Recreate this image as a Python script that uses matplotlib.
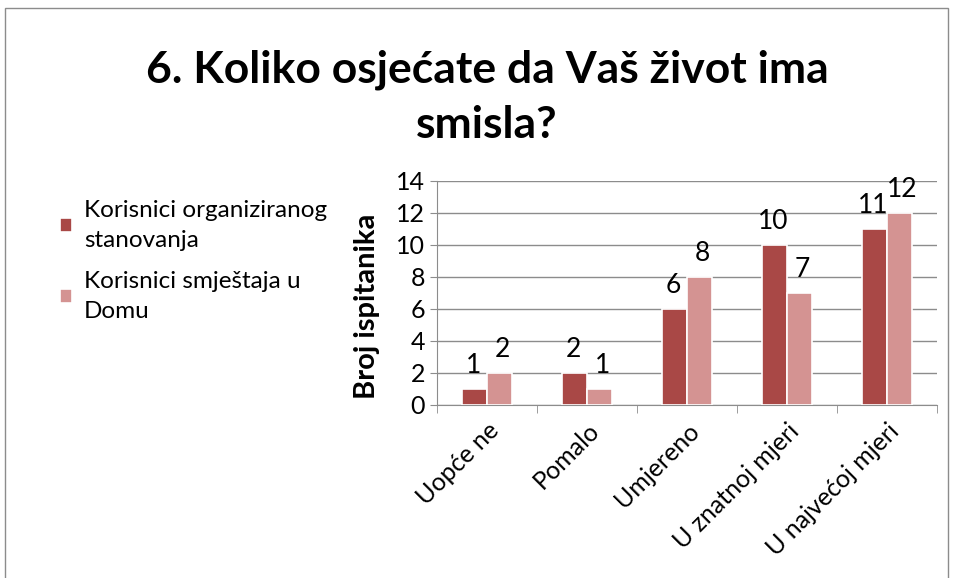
import matplotlib.pyplot as plt
import numpy as np
from matplotlib.patches import Rectangle

plt.rcParams['font.family'] = ['Lato', 'DejaVu Sans']

categories = ['Uopće ne', 'Pomalo', 'Umjereno', 'U znatnoj mjeri', 'U najvećoj mjeri']
organizirano = [1, 2, 6, 10, 11]
dom = [2, 1, 8, 7, 12]
series_names = ['Korisnici organiziranog\nstanovanja', 'Korisnici smještaja u\nDomu']
title = '6. Koliko osjećate da Vaš život ima\nsmisla?'

dark = '#A94846'
light = '#D49392'

fig = plt.figure(figsize=(9.57, 5.78), dpi=100)
fig.patches.append(Rectangle((5/957, -0.1), 943/957, 1 - 8/578 + 0.1, transform=fig.transFigure,
                             fill=False, edgecolor='#8c8c8c', linewidth=1))

ax = fig.add_axes([437/957, 1 - 405/578, 500/957, 224/578])

x = np.arange(len(categories))
w = 0.25
b1 = ax.bar(x - w/2, organizirano, w, color=dark, edgecolor='white', linewidth=1.2, zorder=3)
b2 = ax.bar(x + w/2, dom, w, color=light, edgecolor='white', linewidth=1.2, zorder=3)

for bars, vals, dx in [(b1, organizirano, -1), (b2, dom, 2)]:
    for r, v in zip(bars, vals):
        ax.annotate(str(v), (r.get_x() + r.get_width()/2, v), xytext=(dx, 8),
                    textcoords='offset points', ha='center', va='bottom', fontsize=19)

ax.set_xlim(-0.5, len(categories) - 0.5)
ax.set_ylim(0, 14)
ax.set_yticks(range(0, 15, 2))
ax.tick_params(axis='y', labelsize=18, length=5, color='#8c8c8c')
ax.set_xticks(x)
ax.set_xticklabels(categories, rotation=45, ha='right', rotation_mode='anchor', fontsize=18)
ax.tick_params(axis='x', length=0, pad=10)
ax.set_xticks(np.arange(-0.5, len(categories)), minor=True)
ax.tick_params(axis='x', which='minor', length=6, color='#8c8c8c')
ax.grid(axis='y', color='#8c8c8c', linewidth=1, zorder=0)
for s in ['top', 'right']:
    ax.spines[s].set_visible(False)
for s in ['left', 'bottom']:
    ax.spines[s].set_color('#8c8c8c')
ax.set_ylabel('Broj ispitanika', fontsize=21, fontweight='bold')
ax.yaxis.set_label_coords(-0.115, 0.44)

fig.text(487/957, 1 - 97/578, title, ha='center', va='center', fontsize=32, fontweight='bold',
         linespacing=1.45)

# legend
leg = fig.legend([b1, b2], series_names, loc='upper left', bbox_to_anchor=(38/957, 1 - 178/578),
                 frameon=False, fontsize=17.5, handlelength=0.5, handleheight=0.5,
                 handletextpad=0.5, labelspacing=0.8)
for t in leg.get_texts():
    t.set_linespacing(1.55)

fig.savefig('out.png', dpi=100)
